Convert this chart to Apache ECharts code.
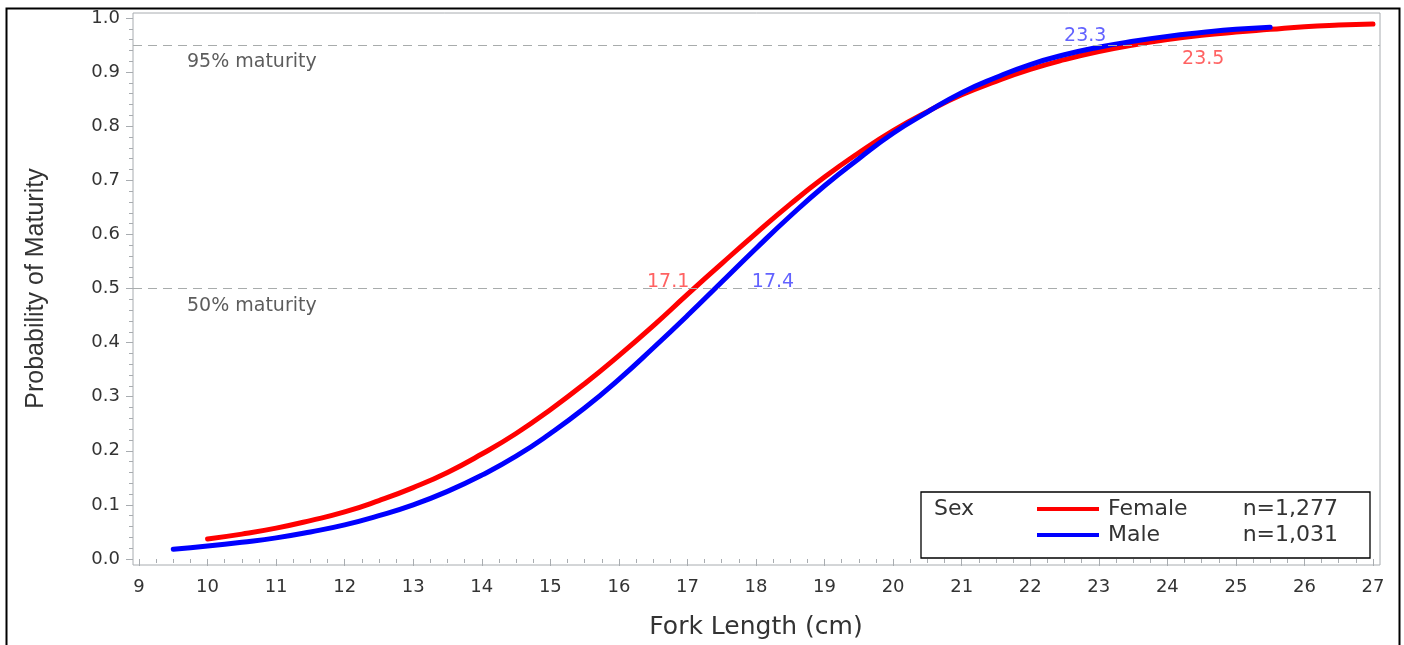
<!DOCTYPE html>
<html>
<head>
<meta charset="utf-8">
<script src="https://cdn.jsdelivr.net/npm/echarts@6/dist/echarts.min.js"></script>
<style>
html,body{margin:0;padding:0;background:#fff;}
#chart{width:1404px;height:645px;}
</style>
</head>
<body>
<div id="chart"></div>
<script>
// ---- Data ----
const femaleX = [10,10.5,11,11.5,12,12.5,13,13.5,14,14.5,15,15.5,16,16.5,17,17.5,18,18.5,19,19.5,20,20.5,21,21.5,22,22.5,23,23.5,24,24.5,25,25.5,26,26.5,27];
const femaleP = [0.037,0.046,0.057,0.071,0.087,0.108,0.132,0.160,0.194,0.232,0.276,0.324,0.376,0.431,0.489,0.546,0.602,0.656,0.706,0.751,0.792,0.827,0.858,0.883,0.905,0.923,0.938,0.950,0.960,0.968,0.974,0.979,0.984,0.987,0.989];
const maleX = [9.5,10,10.5,11,11.5,12,12.5,13,13.5,14,14.5,15,15.5,16,16.5,17,17.5,18,18.5,19,19.5,20,20.5,21,21.5,22,22.5,23,23.5,24,24.5,25,25.5];
const maleP = [0.018,0.024,0.031,0.039,0.050,0.063,0.080,0.100,0.125,0.155,0.190,0.232,0.279,0.332,0.390,0.450,0.512,0.574,0.634,0.690,0.740,0.787,0.826,0.862,0.890,0.914,0.932,0.946,0.957,0.966,0.973,0.979,0.983];
const seriesNames = ['Female', 'Male'];
const seriesCounts = ['n=1,277', 'n=1,031'];
const legendTitle = 'Sex';
const refLevels = [0.95, 0.5];
const refLabels = ['95% maturity', '50% maturity'];
const femaleMarks = [[17.1, 0.5], [23.5, 0.95]];
const maleMarks = [[17.4, 0.5], [23.3, 0.95]];
const xTitle = 'Fork Length (cm)';
const yTitle = 'Probability of Maturity';

const zip = (xs, ys) => xs.map((x, i) => [x, ys[i]]);
const FONT = 'DejaVu Sans';
const GRAY = '#a8acb0';

const chart = echarts.init(document.getElementById('chart'), null, {renderer: 'canvas'});
chart.setOption({
  animation: false,
  backgroundColor: '#fff',
  grid: [
    {left: 133, top: 13, width: 1247, height: 552, show: true, borderColor: GRAY, borderWidth: 1, backgroundColor: 'transparent'},
    {left: 139, top: 18, width: 1234, height: 541}
  ],
  xAxis: [
    {gridIndex: 0, type: 'value', min: 8.9125, max: 27.102, show: false},
    {gridIndex: 1, type: 'value', min: 9, max: 27, interval: 1, offset: 6,
     name: xTitle, nameLocation: 'middle', nameGap: 50,
     nameTextStyle: {fontFamily: FONT, fontSize: 25, color: '#333'},
     axisLine: {show: false},
     axisTick: {show: true, length: 7, lineStyle: {color: GRAY}},
     minorTick: {show: true, splitNumber: 4, length: 4, lineStyle: {color: GRAY}},
     splitLine: {show: false},
     axisLabel: {fontFamily: FONT, fontSize: 18, color: '#333', margin: 13}}
  ],
  yAxis: [
    {gridIndex: 0, type: 'value', min: -0.0111, max: 1.0092, show: false},
    {gridIndex: 1, type: 'value', min: 0, max: 1, interval: 0.1, offset: 6,
     name: yTitle, nameLocation: 'middle', nameGap: 84, nameRotate: 90,
     nameTextStyle: {fontFamily: "'Liberation Sans Narrow','Liberation Sans'", fontSize: 25, color: '#333'},
     axisLine: {show: false},
     axisTick: {show: true, length: 7, lineStyle: {color: GRAY}},
     minorTick: {show: true, splitNumber: 5, length: 4, lineStyle: {color: GRAY}},
     splitLine: {show: false},
     axisLabel: {fontFamily: FONT, fontSize: 18, color: '#333', margin: 13,
       formatter: v => v.toFixed(1)}}
  ],
  legend: {
    orient: 'vertical', left: 921, top: 492,
    data: seriesNames,
    icon: 'rect', itemWidth: 62, itemHeight: 4, itemGap: 4,
    borderColor: '#000', borderWidth: 1.3,
    padding: [6, 32, 12, 116],
    selectedMode: false,
    textStyle: {fontFamily: FONT, fontSize: 22, color: '#333',
      rich: {a: {width: 117, padding: [0, 0, 0, 4], fontFamily: FONT, fontSize: 22, color: '#333', lineHeight: 23},
             b: {width: 113, align: 'right', fontFamily: FONT, fontSize: 22, color: '#333', lineHeight: 23}}},
    formatter: name => {
      const i = seriesNames.indexOf(name);
      return '{a|' + name + '}{b|' + seriesCounts[i] + '}';
    }
  },
  graphic: [
    {type: 'rect', left: 4, top: 6, shape: {width: 1393, height: 700},
     style: {fill: 'none', stroke: '#000', lineWidth: 2}, silent: true},
    {type: 'text', left: 934, top: 498,
     style: {text: legendTitle, font: '22px "DejaVu Sans"', fill: '#333'}}
  ],
  series: [
    {
      type: 'line', xAxisIndex: 0, yAxisIndex: 0, data: [], silent: true,
      markLine: {
        silent: true, symbol: 'none',
        lineStyle: {color: '#a8acac', type: [9, 6], width: 1},
        label: {show: false},
        data: refLevels.map(v => ({yAxis: v}))
      }
    },
    {
      type: 'scatter', xAxisIndex: 1, yAxisIndex: 1, symbolSize: 0, silent: true,
      data: refLevels.map((v, i) => ({value: [9.7, v], label: {show: true, formatter: refLabels[i],
        position: 'bottom', align: 'left', offset: [0, 3]}})),
      label: {fontFamily: FONT, fontSize: 19, color: '#333'}
    },
    {
      name: seriesNames[0], type: 'line', xAxisIndex: 1, yAxisIndex: 1,
      data: zip(femaleX, femaleP), smooth: true, showSymbol: false,
      lineStyle: {color: '#ff0000', width: 5, cap: 'round'}, itemStyle: {color: '#ff0000'},
      z: 3
    },
    {
      name: seriesNames[1], type: 'line', xAxisIndex: 1, yAxisIndex: 1,
      data: zip(maleX, maleP), smooth: true, showSymbol: false,
      lineStyle: {color: '#0000ff', width: 5, cap: 'round'}, itemStyle: {color: '#0000ff'},
      z: 4
    },
    {
      type: 'scatter', xAxisIndex: 1, yAxisIndex: 1, symbolSize: 0, silent: true, z: 5,
      data: [
        {value: femaleMarks[0], label: {show: true, formatter: String(femaleMarks[0][0]), color: '#ff3b3b', position: 'left', offset: [0, -6]}},
        {value: femaleMarks[1], label: {show: true, formatter: String(femaleMarks[1][0]), color: '#ff3b3b', position: 'right', offset: [44, 14]}},
        {value: maleMarks[0], label: {show: true, formatter: String(maleMarks[0][0]), color: '#3b3bff', position: 'right', offset: [32, -6]}},
        {value: maleMarks[1], label: {show: true, formatter: String(maleMarks[1][0]), color: '#3b3bff', position: 'left', offset: [-8, -9]}}
      ],
      label: {fontFamily: FONT, fontSize: 19}
    }
  ]
});
</script>
</body>
</html>
